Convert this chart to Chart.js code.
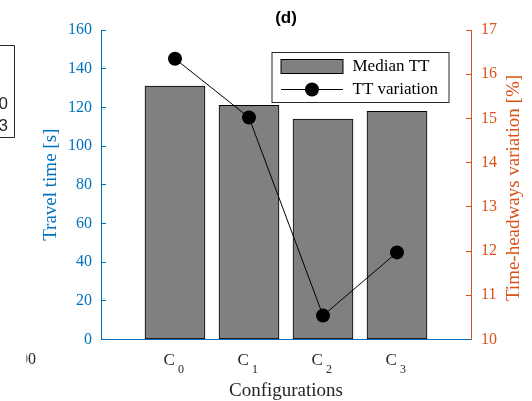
<!DOCTYPE html>
<html>
<head>
<meta charset="utf-8">
<script src="https://cdn.jsdelivr.net/npm/chart.js@4.4.1/dist/chart.umd.min.js"></script>
<style>
  html, body { margin: 0; padding: 0; background: #fff; }
  #wrap { width: 532px; height: 401px; }
</style>
</head>
<body>
<div id="wrap"><canvas id="chart" width="532" height="401"></canvas></div>
<script>
// ─── data ───
const catBase = ['C', 'C', 'C', 'C'];
const catSub = ['0', '1', '2', '3'];
const catPos = [1, 2, 3, 4];
const medianTT = [131, 121, 114, 118];
const ttVariation = [16.35, 15.02, 10.54, 11.97];
const leftTicks = [0, 20, 40, 60, 80, 100, 120, 140, 160];
const rightTicks = [10, 11, 12, 13, 14, 15, 16, 17];

const SERIF = "'Liberation Serif', 'DejaVu Serif', serif";
const SANS = "'Liberation Sans', Arial, sans-serif";
const BLUE = '#0072BD';
const ORANGE = '#D95319';
const DARK = '#262626';

// ─── extra drawing: subscripted tick labels, right title, legend box, neighbour fragments ───
const extras = {
    id: 'extras',
    afterDraw(chart) {
        const c = chart.ctx;
        const xs = chart.scales.x;
        c.save();

        // x tick labels  C_0 .. C_3
        c.fillStyle = DARK;
        c.textAlign = 'left';
        c.textBaseline = 'alphabetic';
        catPos.forEach((v, i) => {
            const px = xs.getPixelForValue(v);
            c.font = '17px ' + SERIF;
            c.fillText(catBase[i], px - 11.5, 365);
            c.font = '12px ' + SERIF;
            c.fillText(catSub[i], px + 3, 373);
        });

        // right axis title, reads bottom to top
        c.save();
        c.translate(514.5, 188);
        c.rotate(-Math.PI / 2);
        c.font = '19px ' + SERIF;
        c.fillStyle = ORANGE;
        c.textAlign = 'center';
        c.textBaseline = 'middle';
        c.fillText('Time-headways variation [%]', 0, 0);
        c.restore();

        // legend
        const bar = chart.data.datasets[1];
        const line = chart.data.datasets[0];
        c.fillStyle = '#fff';
        c.fillRect(272, 52.5, 177, 50);
        c.strokeStyle = DARK;
        c.lineWidth = 1;
        c.strokeRect(272, 52.5, 177, 50);
        c.fillStyle = bar.backgroundColor;
        c.fillRect(281, 59.5, 62, 14);
        c.strokeStyle = bar.borderColor;
        c.strokeRect(281, 59.5, 62, 14);
        c.strokeStyle = line.borderColor;
        c.beginPath();
        c.moveTo(281, 89.5);
        c.lineTo(343, 89.5);
        c.stroke();
        c.fillStyle = line.pointBackgroundColor;
        c.beginPath();
        c.arc(312, 89.5, 7, 0, Math.PI * 2);
        c.fill();
        c.fillStyle = '#000';
        c.font = '17px ' + SERIF;
        c.textBaseline = 'middle';
        c.fillText(bar.label, 352.5, 67);
        c.fillText(line.label, 352.5, 90);

        // cut-off pieces of the neighbouring panel
        c.strokeStyle = DARK;
        c.beginPath();
        c.moveTo(-1, 45.5);
        c.lineTo(14.5, 45.5);
        c.lineTo(14.5, 137.5);
        c.lineTo(-1, 137.5);
        c.stroke();
        c.fillStyle = DARK;
        c.font = '17px ' + SANS;
        c.textAlign = 'right';
        c.fillText('0', 8, 104);
        c.fillText('3', 8, 126);
        c.save();
        c.beginPath();
        c.rect(26.5, 340, 20, 40);
        c.clip();
        c.font = '16px ' + SERIF;
        c.fillText('00', 36, 360);
        c.restore();

        c.restore();
    }
};

const ctx = document.getElementById('chart');
new Chart(ctx, {
    data: {
        datasets: [{
            type: 'line',
            label: 'TT variation',
            data: catPos.map((x, i) => ({ x: x, y: ttVariation[i] })),
            yAxisID: 'yR',
            borderColor: '#000',
            borderWidth: 1,
            pointRadius: 7,
            pointBackgroundColor: '#000',
            pointBorderColor: '#000',
            pointBorderWidth: 0,
            order: 0,
        }, {
            type: 'bar',
            label: 'Median TT',
            data: catPos.map((x, i) => ({ x: x, y: medianTT[i] })),
            yAxisID: 'yL',
            backgroundColor: '#808080',
            borderColor: '#000',
            borderWidth: 1,
            borderSkipped: false,
            barThickness: 60,
            order: 1,
        }]
    },
    options: {
        responsive: false,
        animation: false,
        layout: { padding: 0 },
        plugins: {
            legend: { display: false },
            tooltip: { enabled: false },
            title: {
                display: true,
                text: '(d)',
                fullSize: false,
                color: '#000',
                font: { family: SANS, size: 17, weight: 'bold', lineHeight: 1.2 },
                padding: { top: 8, bottom: 1.6 },
            },
        },
        scales: {
            x: {
                type: 'linear',
                min: 0,
                max: 5,
                offset: false,
                afterBuildTicks: s => { s.ticks = catPos.map(v => ({ value: v })); },
                ticks: { display: false },
                grid: { drawOnChartArea: false, drawTicks: true, tickLength: -4, color: BLUE, offset: false },
                border: { color: BLUE, width: 1 },
                title: {
                    display: true,
                    text: 'Configurations',
                    color: DARK,
                    font: { family: SERIF, size: 19, lineHeight: 1.1 },
                    padding: { top: 0, bottom: 0 },
                },
                afterFit: s => { s.height = 61.5; },
            },
            yL: {
                type: 'linear',
                position: 'left',
                min: 0,
                max: 160,
                afterBuildTicks: s => { s.ticks = leftTicks.map(v => ({ value: v })); },
                ticks: { color: BLUE, font: { family: SERIF, size: 16 }, padding: 14 },
                grid: { drawOnChartArea: false, drawTicks: true, tickLength: -5, color: BLUE },
                border: { color: BLUE, width: 1 },
                title: {
                    display: true,
                    text: 'Travel time [s]',
                    color: BLUE,
                    font: { family: SERIF, size: 19, lineHeight: 1.1 },
                    padding: { top: 40.5, bottom: 0 },
                },
                afterFit: s => { s.width = 101; },
            },
            yR: {
                type: 'linear',
                position: 'right',
                min: 10,
                max: 17,
                afterBuildTicks: s => { s.ticks = rightTicks.map(v => ({ value: v })); },
                ticks: { color: ORANGE, font: { family: SERIF, size: 16 }, padding: 15 },
                grid: { drawOnChartArea: false, drawTicks: true, tickLength: -5, color: ORANGE },
                border: { color: ORANGE, width: 1 },
                afterFit: s => { s.width = 61; },
            },
        },
    },
    plugins: [extras],
});
</script>
</body>
</html>
